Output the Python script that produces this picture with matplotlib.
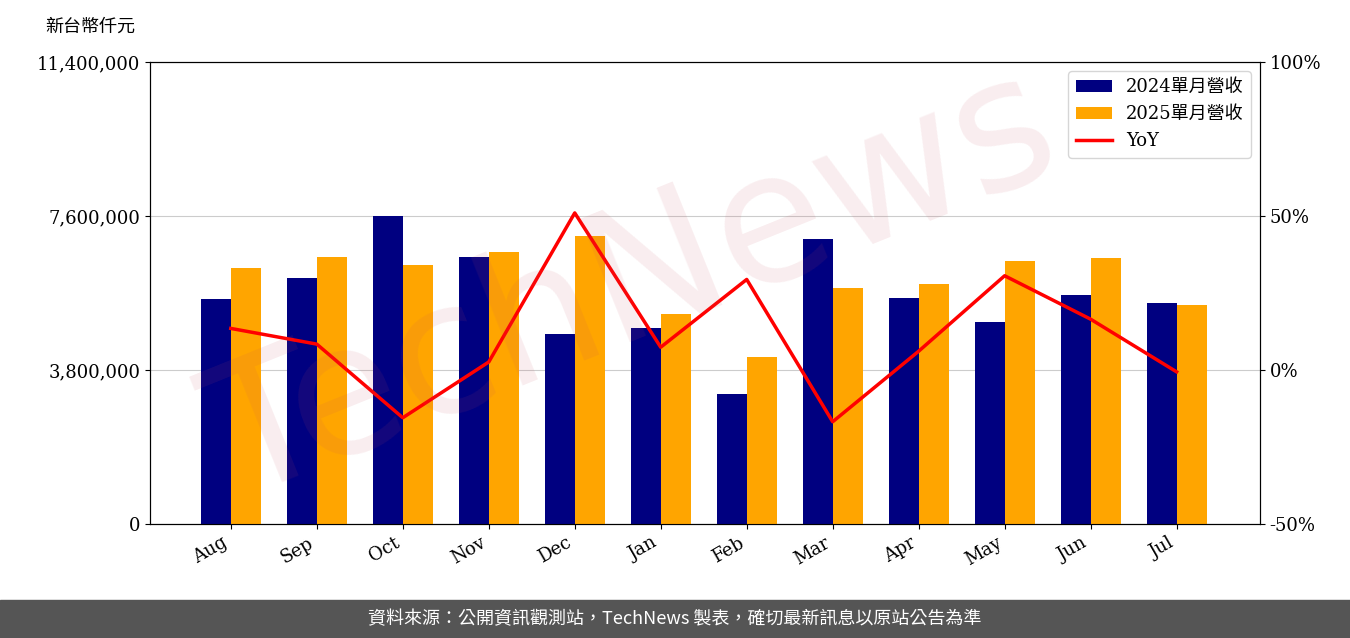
import matplotlib
matplotlib.use("Agg")
import matplotlib.pyplot as plt
import numpy as np
from matplotlib.ticker import FuncFormatter

months = ["Aug","Sep","Oct","Nov","Dec","Jan","Feb","Mar","Apr","May","Jun","Jul"]
rev2024 = [5550000,6070000,7600000,6590000,4690000,4840000,3210000,7030000,5580000,4980000,5650000,5450000]
rev2025 = [6320000,6590000,6390000,6710000,7110000,5180000,4120000,5820000,5920000,6490000,6560000,5400000]
yoy = [13.5,8.4,-15.5,2.6,51.0,7.4,29.4,-16.8,6.1,30.6,16.5,-0.6]

cjk = ["Noto Sans CJK TC", "DejaVu Sans"]
serif = ["DejaVu Serif", "Noto Sans CJK TC"]
plt.rcParams['font.family'] = serif

fig = plt.figure(figsize=(13.5, 6.38), dpi=100)
ax = fig.add_axes([150/1350, 1-524/638, 1110/1350, 462/638])
x = np.arange(len(months))
w = 0.35
ax.bar(x - w/2, rev2024, w, color="#000080", label="2024單月營收", zorder=3)
ax.bar(x + w/2, rev2025, w, color="#FFA500", label="2025單月營收", zorder=3)
ax.set_ylim(0, 11400000)
ax.set_yticks([0, 3800000, 7600000, 11400000])
ax.yaxis.set_major_formatter(FuncFormatter(lambda v, p: f"{int(v):,}"))
ax.grid(axis="y", color="#cccccc", zorder=0)
ax.set_xticks(x)
ax.set_xticklabels(months, rotation=30, ha="right")
ax.set_xlim(-0.94, 11.97)
ax.tick_params(labelsize=13)

ax2 = ax.twinx()
ax2.plot(x, yoy, color="red", lw=2.5, label="YoY", zorder=4)
ax2.set_ylim(-50, 100)
ax2.set_yticks([-50, 0, 50, 100])
ax2.yaxis.set_major_formatter(FuncFormatter(lambda v, p: f"{int(v)}%"))
ax2.tick_params(labelsize=13)

h1, l1 = ax.get_legend_handles_labels()
h2, l2 = ax2.get_legend_handles_labels()
ax2.legend(h1 + h2, l1 + l2, loc="upper right", prop={"family": serif, "size": 13})

fig.text(45/1350, 1-27/638, "新台幣仟元", family=cjk, fontsize=13, va="center")
fig.text(0.47, 0.55, "TechNews", fontsize=130, color="#c85060", alpha=0.1,
         rotation=22, ha="center", va="center", family=["DejaVu Sans"])
fig.patches.append(plt.Rectangle((0, 0), 1, 38/638, transform=fig.transFigure,
                                 color="#555555", zorder=0))
fig.text(0.5, 19/638, "資料來源：公開資訊觀測站，TechNews 製表，確切最新訊息以原站公告為準",
         family=cjk, fontsize=13, color="white", ha="center", va="center")
fig.savefig("out.png", dpi=100)
